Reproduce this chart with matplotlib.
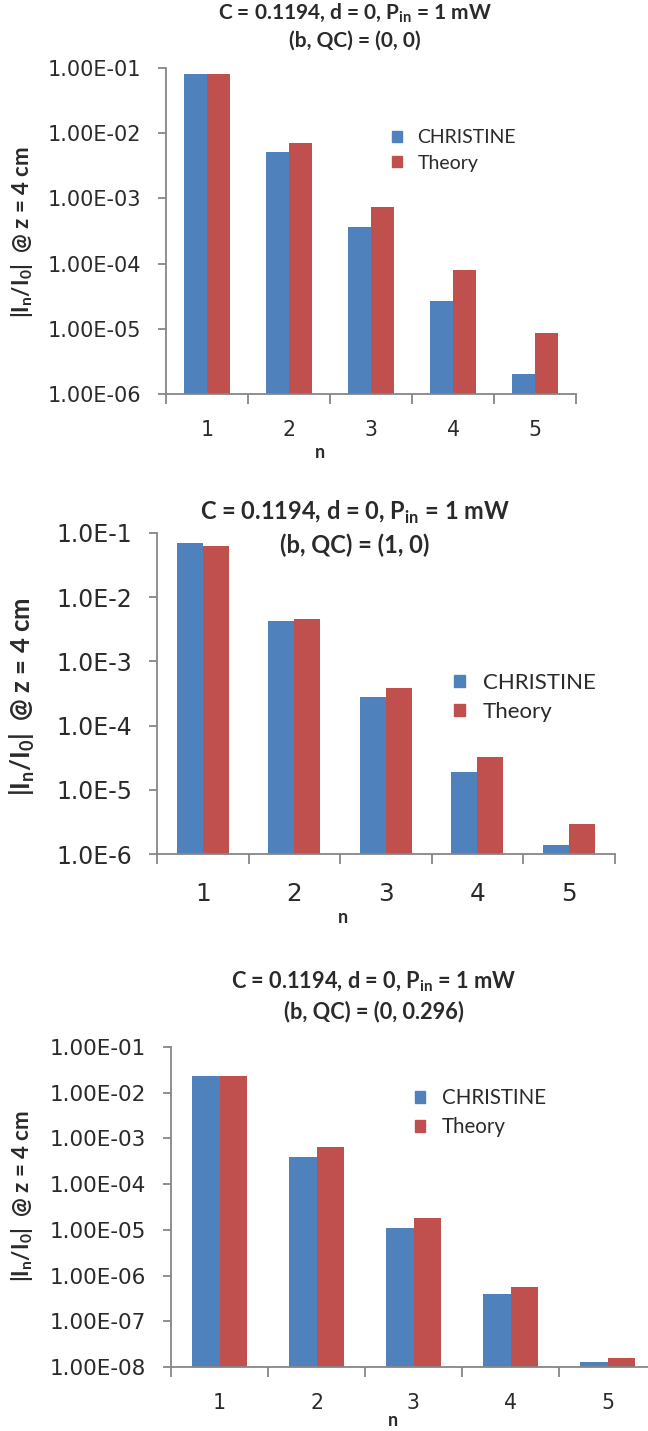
import numpy as np
import matplotlib
matplotlib.use('Agg')
import matplotlib.pyplot as plt
from matplotlib.ticker import FixedLocator, FuncFormatter, NullFormatter
from matplotlib.patches import Patch

plt.rcParams['font.family'] = ['Lato', 'DejaVu Sans']

# Data
n = [1, 2, 3, 4, 5]
series = ['CHRISTINE', 'Theory']

christine_a = [0.081, 5.2e-3, 3.7e-4, 2.7e-5, 2.05e-6]
theory_a = [0.081, 7.2e-3, 7.5e-4, 7.9e-5, 8.7e-6]

christine_b = [0.070, 4.2e-3, 2.75e-4, 1.9e-5, 1.4e-6]
theory_b = [0.063, 4.6e-3, 3.8e-4, 3.2e-5, 2.9e-6]

christine_c = [0.0235, 4.0e-4, 1.1e-5, 3.9e-7, 1.3e-8]
theory_c = [0.0235, 6.6e-4, 1.85e-5, 5.5e-7, 1.55e-8]

subtitles = ['(b, QC) = (0, 0)', '(b, QC) = (1, 0)', '(b, QC) = (0, 0.296)']

blue = '#4F81BD'
red = '#C0504D'
grey = '#868686'
txt = '#2a2a2a'

W, H = 648, 1431


def fmt_long(v, pos):
    return '%.2E' % v


def fmt_short(v, pos):
    e = int(round(np.log10(v)))
    return '1.0E%d' % e


def draw(box, cvals, tvals, ymin, fmt, title, s):
    # box in pixels: left, top (0.1), right, bottom (ymin)
    l, t, r, b = box
    ax = fig.add_axes([l / W, 1 - b / H, (r - l) / W, (b - t) / H])
    x = np.array(n)
    w = 0.285
    ax.bar(x - w / 2, cvals, w, color=blue, zorder=2)
    ax.bar(x + w / 2, tvals, w, color=red, zorder=2)
    ax.set_yscale('log')
    ax.set_ylim(ymin, 0.1)
    ax.set_xlim(0.5, 5.5)
    for sp in ['top', 'right']:
        ax.spines[sp].set_visible(False)
    for sp in ['left', 'bottom']:
        ax.spines[sp].set_color(grey)
        ax.spines[sp].set_linewidth(1.3)
    decades = 10.0 ** np.arange(int(round(np.log10(ymin))), 0)
    ax.yaxis.set_major_locator(FixedLocator(decades))
    ax.yaxis.set_minor_locator(FixedLocator([]))
    ax.yaxis.set_major_formatter(FuncFormatter(fmt))
    ax.tick_params(axis='y', which='major', length=6, color=grey, width=1.3,
                   labelsize=s['yfs'], labelcolor=txt, pad=12)
    for lab in ax.get_yticklabels():
        lab.set_family('DejaVu Sans')
    # category boundary ticks, labels at centers
    ax.xaxis.set_major_locator(FixedLocator(np.arange(0.5, 6.0, 1.0)))
    ax.xaxis.set_major_formatter(NullFormatter())
    ax.xaxis.set_minor_locator(FixedLocator(x))
    ax.set_xticklabels([str(i) for i in n], minor=True)
    ax.tick_params(axis='x', which='major', length=7, color=grey, width=1.3)
    ax.tick_params(axis='x', which='minor', length=0, labelsize=s['xfs'],
                   pad=s['xpad'], labelcolor=txt)
    for lab in ax.get_xticklabels(minor=True):
        lab.set_family('DejaVu Sans')

    ax.set_xlabel('n', fontsize=13, fontweight='bold', color=txt)
    nx, ny = s['n_px']
    ax.xaxis.set_label_coords((nx - l) / (r - l), -(ny - b) / (b - t))
    ax.xaxis.label.set_va('center')

    ax.set_ylabel('|I$_\\mathregular{n}$/I$_\\mathregular{0}$|  @ z = 4 cm',
                  fontsize=s['ylfs'], fontweight='bold', color=txt)
    ax.yaxis.set_label_coords((22 - l) / (r - l), (b - s['yl_y']) / (b - t))
    ax.yaxis.label.set_va('center')

    tx, ty = s['title_px']
    fig.text(tx / W, 1 - ty / H,
             'C = 0.1194, d = 0, P$_\\mathregular{in}$ = 1 mW\n' + title,
             ha='center', va='top', fontsize=s['tfs'], fontweight='bold',
             linespacing=1.35, color=txt)

    handles = [Patch(color=blue), Patch(color=red)]
    lx, ly = s['leg_px']
    ax.legend(handles, series, loc='upper left',
              bbox_to_anchor=(lx / W, 1 - ly / H),
              bbox_transform=fig.transFigure, borderpad=0, borderaxespad=0,
              frameon=False, handlelength=0.5, handleheight=0.5,
              handletextpad=0.8, fontsize=s['lfs'], labelspacing=s['lsp'],
              labelcolor=txt)
    return ax


fig = plt.figure(figsize=(W / 100, H / 100), dpi=100)

ax1 = draw((166, 68, 576, 394), christine_a, theory_a, 1e-6, fmt_long,
           subtitles[0],
           dict(yfs=15, xfs=14.8, xpad=19, ylfs=16, yl_y=232, tfs=15,
                title_px=(355, 2), lfs=14, lsp=0.45, leg_px=(392, 129),
                n_px=(320, 452)))

ax2 = draw((157, 533, 614.5, 854), christine_b, theory_b, 1e-6, fmt_short,
           subtitles[1],
           dict(yfs=17, xfs=17.7, xpad=20, ylfs=18.5, yl_y=697, tfs=17,
                title_px=(355, 499), lfs=16, lsp=0.4, leg_px=(454, 673),
                n_px=(343, 917)))

ax3 = draw((171, 1047, 656, 1367), christine_c, theory_c, 1e-8, fmt_long,
           subtitles[2],
           dict(yfs=15.5, xfs=14.8, xpad=18.5, ylfs=16, yl_y=1196, tfs=15.7,
                title_px=(374, 970), lfs=14.8, lsp=0.45, leg_px=(415, 1088),
                n_px=(393, 1420)))

fig.savefig('out.png', dpi=100)
